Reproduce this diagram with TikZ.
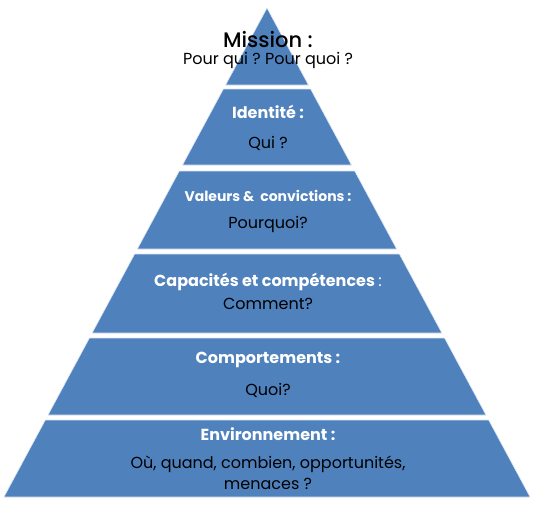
\documentclass[tikz,border=0pt]{standalone}
\usepackage{fontspec}
\setmainfont{Poppins}
\newfontfamily\medfont{Poppins Medium}
\definecolor{pyrblue}{HTML}{4F81BD}
\frenchspacing
\begin{document}
\begin{tikzpicture}[x=1pt, y=-1pt,
    layer/.style={fill=pyrblue, draw=white!80!pyrblue, line width=0.6pt},
    title/.style={black, font=\fontsize{21}{24}\selectfont\medfont},
    head/.style={white, font=\fontsize{16}{18}\selectfont\bfseries},
    ask/.style={black, font=\fontsize{16}{21}\selectfont, align=center}]
    \useasboundingbox (0,0) rectangle (535,506);

    % Top triangle
    \fill[layer] (267,8) -- ({267+0.538*77},85) -- ({267-0.538*77},85) -- cycle;

    % Lower layers
    \foreach \ytop/\ybot in {89/165, 171/249, 254/333, 338/415, 420/497} {
        \fill[layer] ({267-0.538*(\ytop-8)},\ytop) -- ({267+0.538*(\ytop-8)},\ytop)
            -- ({267+0.538*(\ybot-8)},\ybot) -- ({267-0.538*(\ybot-8)},\ybot) -- cycle;
    }

    % Texts
    \node[title] (mission) at (268,40) {Mission :};
    \node[ask] (missionq) at (268,60) {Pour qui ? Pour quoi ?};

    \node[head] (identite) at (268,112) {Identité :};
    \node[ask] (identiteq) at (268,143) {Qui ?};

    \node[head, font=\fontsize{14}{16}\selectfont\bfseries] (valeurs) at (268,196) {Valeurs \&~ convictions :};
    \node[ask] (valeursq) at (268,224) {Pourquoi?};

    \node[head] (capacites) at (268,282) {Capacités et compétences {\mdseries:}};
    \node[ask] (capacitesq) at (268,304) {Comment?};

    \node[head] (comport) at (268,360) {Comportements :};
    \node[ask] (comportq) at (268,390) {Quoi?};

    \node[head] (environ) at (268,434) {Environnement :};
    \node[ask] (environq) at (268,473) {Où, quand, combien, opportunités,\\menaces ?};
\end{tikzpicture}
\end{document}
